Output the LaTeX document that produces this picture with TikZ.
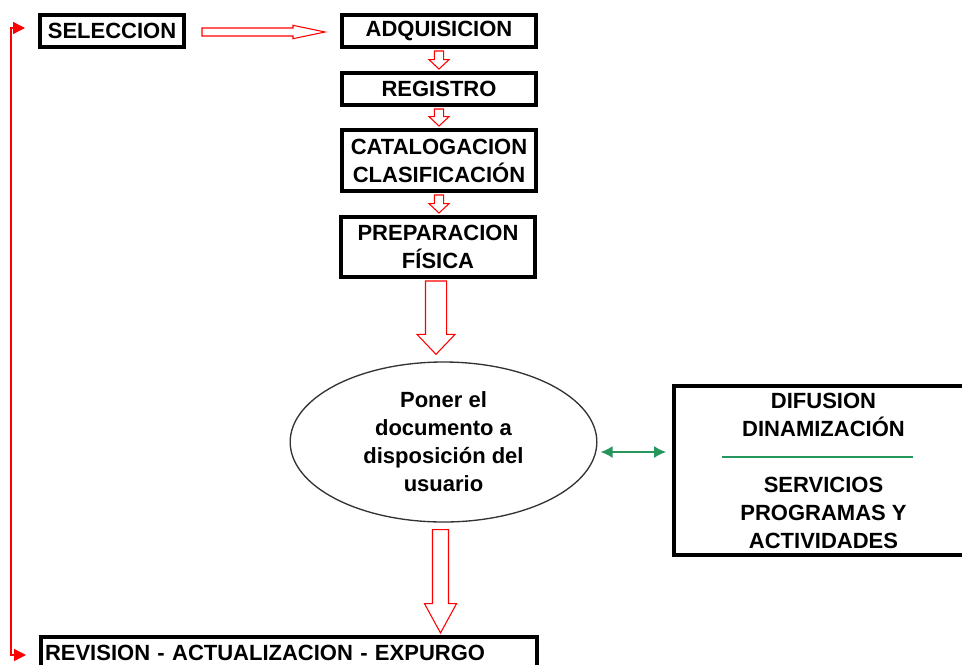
\documentclass[tikz,border=0pt]{standalone}
\usepackage{fontspec}
\setmainfont{Liberation Sans}
\usetikzlibrary{arrows.meta}
\usetikzlibrary{calc}
\usetikzlibrary{shapes.geometric}

\definecolor{verdeenlace}{RGB}{38,150,92}

\tikzset{
  etapa/.style={draw=black, line width=3pt, fill=white, inner sep=0pt, align=center,
    font=\fontsize{16.5}{21}\selectfont\bfseries, minimum width=145.5pt, minimum height=24pt},
  hueca/.style={draw=red, fill=white, line width=0.8pt, line join=miter},
  retorno/.style={draw=red, line width=1.1pt,
    {Triangle[length=9pt,width=9pt]}-{Triangle[length=9pt,width=9pt]}},
  enlace/.style={draw=verdeenlace, line width=1.5pt,
    {Latex[length=9pt,width=9pt]}-{Latex[length=9pt,width=9pt]}},
}

% flecha hueca: origen, destino, media cana, media punta, largo punta
\newcommand{\flechaabajo}[5]{%
  \draw[hueca] let \p1=#1, \p2=#2 in
    (\x1-#3,\y1) -- (\x1-#3,\y2+#5) -- (\x1-#4,\y2+#5) -- (\x1,\y2)
    -- (\x1+#4,\y2+#5) -- (\x1+#3,\y2+#5) -- (\x1+#3,\y1) -- cycle;}
\newcommand{\flechaderecha}[5]{%
  \draw[hueca] let \p1=#1, \p2=#2 in
    (\x1,\y1-#3) -- (\x2-#5,\y1-#3) -- (\x2-#5,\y1-#4) -- (\x2,\y1)
    -- (\x2-#5,\y1+#4) -- (\x2-#5,\y1+#3) -- (\x1,\y1+#3) -- cycle;}

\begin{document}
\begin{tikzpicture}[x=0.75pt, y=-0.75pt]
\useasboundingbox (0,0) rectangle (962,664);

\node[etapa, minimum width=108pt] (sel) at (112,31) {SELECCION};
\node[etapa] (adq) at (439,31) {ADQUISICION};
\node[etapa] (reg) at (439,89) {REGISTRO};
\node[etapa, minimum height=45.75pt] (cat) at (439,160.5) {CATALOGACION\\CLASIFICACIÓN};
\node[etapa, minimum height=45pt] (prep) at (438,247) {PREPARACION\\FÍSICA};
\node[ellipse, draw=black!80, line width=1pt, minimum width=230pt, minimum height=120pt,
  inner sep=0pt, align=center, font=\fontsize{16.5}{21}\selectfont\bfseries]
  (ell) at (443.5,442) {Poner el\\documento a\\disposición del\\usuario};
\node[etapa, minimum width=224pt, minimum height=126.75pt] (dif) at (823.5,470.5)
  {DIFUSION\\DINAMIZACIÓN\\[21pt]SERVICIOS\\PROGRAMAS Y\\ACTIVIDADES};
\node[etapa, minimum width=0pt, text width=366pt, inner xsep=3pt, align=left, anchor=west]
  (rev) at (39,653) {REVISION - ACTUALIZACION - EXPURGO};

\draw[verdeenlace, line width=1pt] ($(dif.center)+(-101.5,-13.5)$) -- ($(dif.center)+(89.5,-13.5)$);

\flechaderecha{($(sel.east)+(16,1)$)}{($(adq.west)+(-15,1)$)}{3pt}{5pt}{24pt}
\flechaabajo{($(adq.south)+(0,2)$)}{($(reg.north)+(0,-2)$)}{3.5pt}{7.5pt}{7pt}
\flechaabajo{($(reg.south)+(0,2)$)}{($(cat.north)+(0,-2)$)}{3.5pt}{7.5pt}{7pt}
\flechaabajo{($(cat.south)+(0,2)$)}{($(prep.north)+(0,-2)$)}{3.5pt}{7.5pt}{7pt}
\flechaabajo{($(prep.south)+(-2,2)$)}{($(ell.north)+(0,-7)$)}{7.9pt}{14.3pt}{15pt}
\flechaabajo{($(ell.south)+(-3,7)$)}{($(rev.north)+(0,-2)$)}{6pt}{12pt}{22pt}

\coordinate (g1) at ($(ell.east)+(3,10)$);
\draw[enlace, shorten >=4.5pt] (g1) -- (g1 -| dif.west);

\coordinate (t1) at ($(sel.west)+(-13,-3)$);
\coordinate (t2) at ($(rev.west)+(-13,2)$);
\coordinate (lazo) at ($(sel.west)+(-27,0)$);
\draw[retorno] (t1) -- (t1 -| lazo) -- (t2 -| lazo) -- (t2);
\end{tikzpicture}
\end{document}
